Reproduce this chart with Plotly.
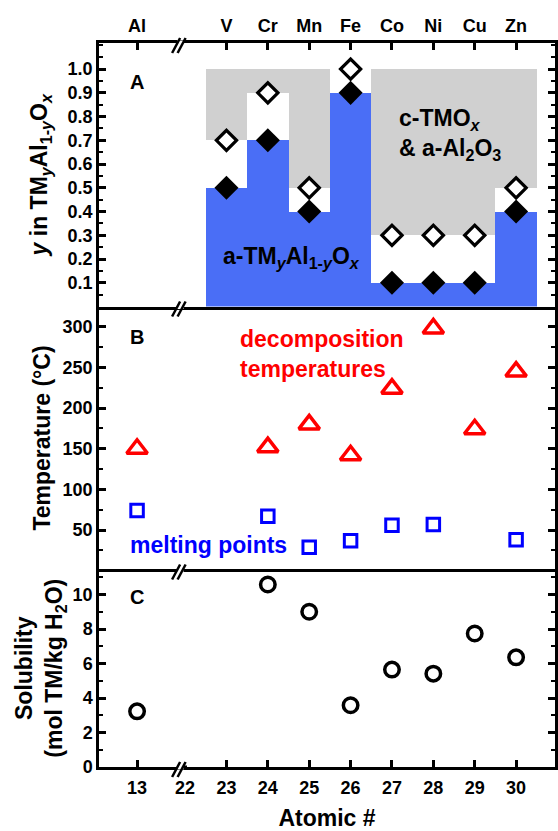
import plotly.graph_objects as go

# ---------------- data ----------------
top_elements = ["Al", "V", "Cr", "Mn", "Fe", "Co", "Ni", "Cu", "Zn"]
top_numbers = [13, 23, 24, 25, 26, 27, 28, 29, 30]
bottom_tick_numbers = [13, 22, 23, 24, 25, 26, 27, 28, 29, 30]

tm_numbers = [23, 24, 25, 26, 27, 28, 29, 30]
y_amorphous_max = [0.5, 0.7, 0.4, 0.9, 0.1, 0.1, 0.1, 0.4]      # filled diamonds
y_crystalline_min = [0.7, 0.9, 0.5, 1.0, 0.3, 0.3, 0.3, 0.5]    # open diamonds

decomp_numbers = [13, 24, 25, 26, 27, 28, 29, 30]
decomp_temps = [150, 152, 180, 142, 224, 298, 174, 245]

melt_numbers = [13, 24, 25, 26, 27, 28, 30]
melt_temps = [74, 67, 29, 37, 56, 57, 38]

sol_numbers = [13, 24, 25, 26, 27, 28, 29, 30]
solubility = [3.23, 10.58, 9.0, 3.58, 5.65, 5.41, 7.74, 6.36]

# ---------------- broken x axis mapping ----------------
BREAK_SHIFT = 7.84      # atomic numbers below the break are shifted right
BREAK_POS = 21.88


def xpos(z):
    return z if z >= 22 else z + BREAK_SHIFT


def xs(lst):
    return [xpos(z) for z in lst]


FONT = "Liberation Sans, Arial, sans-serif"
BLUE_FILL = "#4a6ef6"
GRAY_FILL = "#d0d0d0"
LW = 2.5

fig = go.Figure()

# Panel A
fig.add_trace(go.Bar(x=tm_numbers, y=y_amorphous_max, width=1.0,
                     marker=dict(color=BLUE_FILL, line=dict(width=0)),
                     xaxis="x", yaxis="y", showlegend=False, hoverinfo="skip"))
fig.add_trace(go.Bar(x=tm_numbers, base=y_crystalline_min,
                     y=[1.0 - v for v in y_crystalline_min], width=1.0,
                     marker=dict(color=GRAY_FILL, line=dict(width=0)),
                     xaxis="x", yaxis="y", showlegend=False, hoverinfo="skip"))
fig.add_trace(go.Scatter(x=tm_numbers, y=y_crystalline_min, mode="markers",
                         marker=dict(symbol="diamond", size=15.5, color="white",
                                     line=dict(color="black", width=3.2)),
                         xaxis="x", yaxis="y", showlegend=False))
fig.add_trace(go.Scatter(x=tm_numbers, y=y_amorphous_max, mode="markers",
                         marker=dict(symbol="diamond", size=18.5, color="black",
                                     line=dict(width=0)),
                         xaxis="x", yaxis="y", showlegend=False))

# Panel B
fig.add_trace(go.Scatter(x=xs(decomp_numbers), y=decomp_temps, mode="markers",
                         marker=dict(symbol="triangle-up-open", size=18,
                                     color="#ff0000", line=dict(width=3.5)),
                         xaxis="x2", yaxis="y2", showlegend=False))
fig.add_trace(go.Scatter(x=xs(melt_numbers), y=melt_temps, mode="markers",
                         marker=dict(symbol="square-open", size=12.5,
                                     color="#0000ff", line=dict(width=3)),
                         xaxis="x2", yaxis="y2", showlegend=False))

# Panel C
fig.add_trace(go.Scatter(x=xs(sol_numbers), y=solubility, mode="markers",
                         marker=dict(symbol="circle-open", size=14.5,
                                     color="black", line=dict(width=3.5)),
                         xaxis="x3", yaxis="y3", showlegend=False))

X_RANGE = [19.92, 30.94]
dA = 0.636
dB = 0.2728

tickfont = dict(family=FONT, size=18, color="black", weight="bold")
titlefont = dict(family=FONT, size=23, color="black", weight="bold")

common_x = dict(range=X_RANGE, showgrid=False, zeroline=False, showline=True,
                linecolor="black", linewidth=LW, automargin=False)
common_y = dict(showgrid=False, zeroline=False, showline=True, linecolor="black",
                linewidth=LW, mirror="allticks", ticks="inside", ticklen=7,
                tickwidth=LW, tickcolor="black", tickfont=tickfont,
                automargin=False)

fig.update_layout(
    width=558, height=831,
    margin=dict(l=99, r=3, t=43, b=64),
    paper_bgcolor="white", plot_bgcolor="white",
    barmode="overlay", bargap=0,
    font=dict(family=FONT, color="black"),
    xaxis=dict(**common_x, anchor="y", side="top", mirror=True,
               tickmode="array", tickvals=xs(top_numbers), ticktext=top_elements,
               ticks="inside", ticklen=7, tickwidth=LW, tickcolor="black",
               tickfont=tickfont, ticklabelstandoff=1),
    xaxis2=dict(**common_x, anchor="y2", side="bottom", mirror=False,
                showticklabels=False, ticks=""),
    xaxis3=dict(**common_x, anchor="y3", side="bottom", mirror=False,
                tickmode="array", tickvals=xs(bottom_tick_numbers),
                ticktext=[str(z) for z in bottom_tick_numbers],
                ticks="inside", ticklen=7, tickwidth=LW, tickcolor="black",
                tickfont=tickfont, ticklabelstandoff=3,
                title=dict(text="Atomic #", font=titlefont, standoff=13)),
    yaxis=dict(**common_y, domain=[dA, 1.0], anchor="x", range=[0, 1.11],
               tickmode="array",
               tickvals=[round(0.1 * i, 1) for i in range(1, 11)],
               ticktext=["%.1f" % (0.1 * i) for i in range(1, 11)],
               minor=dict(ticks="inside", ticklen=4, tickwidth=2,
                          tickcolor="black", tick0=0, dtick=0.05),
               title=dict(text="<i>y</i> in TM<sub><i>y</i></sub>Al<sub>1-<i>y</i></sub>O<sub><i>x</i></sub>",
                          font=titlefont, standoff=14)),
    yaxis2=dict(**common_y, domain=[dB, dA], anchor="x2", range=[1.5, 325],
                tickmode="array", tickvals=[50, 100, 150, 200, 250, 300],
                minor=dict(ticks="inside", ticklen=4, tickwidth=2,
                           tickcolor="black", tick0=0, dtick=25),
                title=dict(text="Temperature (°C)", font=titlefont, standoff=6)),
    yaxis3=dict(**common_y, domain=[0, dB], anchor="x3", range=[0, 11.45],
                tickmode="array", tickvals=[0, 2, 4, 6, 8, 10],
                minor=dict(ticks="inside", ticklen=4, tickwidth=2,
                           tickcolor="black", tick0=0, dtick=1),
                title=dict(text="Solubility<br>(mol TM/kg H<sub>2</sub>O)",
                           font=titlefont, standoff=4)),
)

# annotations
ann_font = dict(family=FONT, size=23, color="black", weight="bold")
panel_font = dict(family=FONT, size=20, color="black", weight="bold")
annotations = [
    dict(x=20.61, y=0.946, xref="x", yref="y", text="A", font=panel_font,
         showarrow=False, xanchor="left", yanchor="middle"),
    dict(x=27.13, y=0.723, xref="x", yref="y",
         text="c-TMO<sub><i>x</i></sub><br>&amp; a-Al<sub>2</sub>O<sub>3</sub>",
         font=ann_font, showarrow=False, xanchor="left", yanchor="middle",
         align="left"),
    dict(x=22.86, y=0.208, xref="x", yref="y",
         text="a-TM<sub><i>y</i></sub>Al<sub>1-<i>y</i></sub>O<sub><i>x</i></sub>",
         font=ann_font, showarrow=False, xanchor="left", yanchor="middle"),
    dict(x=20.61, y=287, xref="x2", yref="y2", text="B", font=panel_font,
         showarrow=False, xanchor="left", yanchor="middle"),
    dict(x=23.27, y=267, xref="x2", yref="y2",
         text="decomposition<br>temperatures",
         font=dict(family=FONT, size=23, color="#ff0000", weight="bold"),
         showarrow=False, xanchor="left", yanchor="middle", align="left"),
    dict(x=20.63, y=31.5, xref="x2", yref="y2", text="melting points",
         font=dict(family=FONT, size=23, color="#0000ff", weight="bold"),
         showarrow=False, xanchor="left", yanchor="middle"),
    dict(x=20.61, y=9.88, xref="x3", yref="y3", text="C", font=panel_font,
         showarrow=False, xanchor="left", yanchor="middle"),
]
fig.update_layout(annotations=annotations)

# axis-break marks "//"
shapes = []
for ya in [1.0, dA, dB, 0.0]:
    common = dict(xref="x", yref="paper", xsizemode="pixel", ysizemode="pixel",
                  xanchor=BREAK_POS, yanchor=ya, layer="above")
    shapes.append(dict(type="rect", x0=-3, x1=3.5, y0=-2.5, y1=2.5,
                       fillcolor="white", line=dict(width=0), **common))
    if ya == 0.0:
        shapes.append(dict(type="rect", x0=3, x1=7, y0=1.5, y1=9,
                           fillcolor="white", line=dict(width=0), **common))
    shapes.append(dict(type="line", x0=-8, y0=-10, x1=0, y1=5,
                       line=dict(color="black", width=LW), **common))
    shapes.append(dict(type="line", x0=-2.5, y0=-10, x1=5.5, y1=5,
                       line=dict(color="black", width=LW), **common))
fig.update_layout(shapes=shapes)

fig.write_html("out.html")
